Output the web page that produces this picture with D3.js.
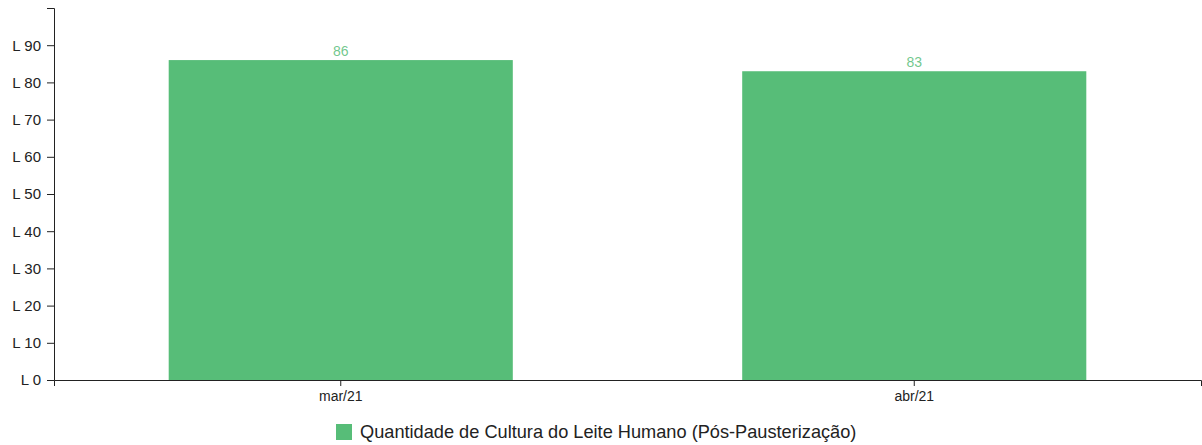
<!DOCTYPE html>
<html>
<head>
<meta charset="utf-8">
<script src="https://cdn.jsdelivr.net/npm/d3@7"></script>
<style>
  body { margin: 0; background: #fff; }
  svg { font-family: "Liberation Sans", Arial, sans-serif; }
  .axis text { font-size: 14px; fill: #222; }
  .axis.y text { font-size: 15px; }
  .axis path, .axis line { stroke: #222; }
</style>
</head>
<body>
<div id="chart"></div>
<script>
// chart data
var months = ["mar/21", "abr/21"];
var litres = [86, 83];
var yTicks = [0, 10, 20, 30, 40, 50, 60, 70, 80, 90];
var seriesName = "Quantidade de Cultura do Leite Humano (Pós-Pausterização)";

var totalWidth = 1202, totalHeight = 445;
var margin = {top: 8, right: 1, bottom: 65, left: 54},
    width = totalWidth - margin.left - margin.right,
    height = totalHeight - margin.top - margin.bottom;

var color = "#57bd78";

var svg = d3.select("#chart")
    .append("svg")
        .attr("width", totalWidth)
        .attr("height", totalHeight)
    .append("g")
        .attr("transform", "translate(" + margin.left + "," + margin.top + ")");

// set the ranges
var x = d3.scaleBand().domain(months).range([0, width])
    .paddingInner(0.4).paddingOuter(0.2);
var y = d3.scaleLinear().domain([0, 100]).range([height, 0]);

// bars
svg.selectAll(".bar")
    .data(months)
    .enter().append("rect")
        .attr("class", "bar")
        .attr("x", function(d) { return x(d); })
        .attr("y", function(d, i) { return y(litres[i]); })
        .attr("width", x.bandwidth())
        .attr("height", function(d, i) { return height - y(litres[i]); })
        .attr("fill", color);

// value labels
svg.selectAll(".label")
    .data(months)
    .enter().append("text")
        .attr("class", "label")
        .attr("x", function(d) { return x(d) + x.bandwidth() / 2; })
        .attr("y", function(d, i) { return y(litres[i]) - 4; })
        .attr("text-anchor", "middle")
        .style("font-size", "14px")
        .style("fill", color)
        .style("fill-opacity", 0.85)
        .text(function(d, i) { return litres[i]; });

// axes
svg.append("g")
    .attr("class", "axis y")
    .call(d3.axisLeft(y).tickValues(yTicks).tickSize(7).tickPadding(6)
        .tickFormat(function(d) { return "L " + d; }));

svg.append("g")
    .attr("class", "axis x")
    .attr("transform", "translate(0," + height + ")")
    .call(d3.axisBottom(x).tickPadding(5));

// legend
var legend = svg.append("g")
    .attr("transform", "translate(" + (282) + "," + (height + 44) + ")");
legend.append("rect")
    .attr("width", 16).attr("height", 16)
    .attr("fill", color);
legend.append("text")
    .attr("x", 24).attr("y", 9)
    .attr("dominant-baseline", "middle")
    .style("font-size", "18.2px")
    .style("fill", "#222")
    .text(seriesName);
</script>
</body>
</html>
